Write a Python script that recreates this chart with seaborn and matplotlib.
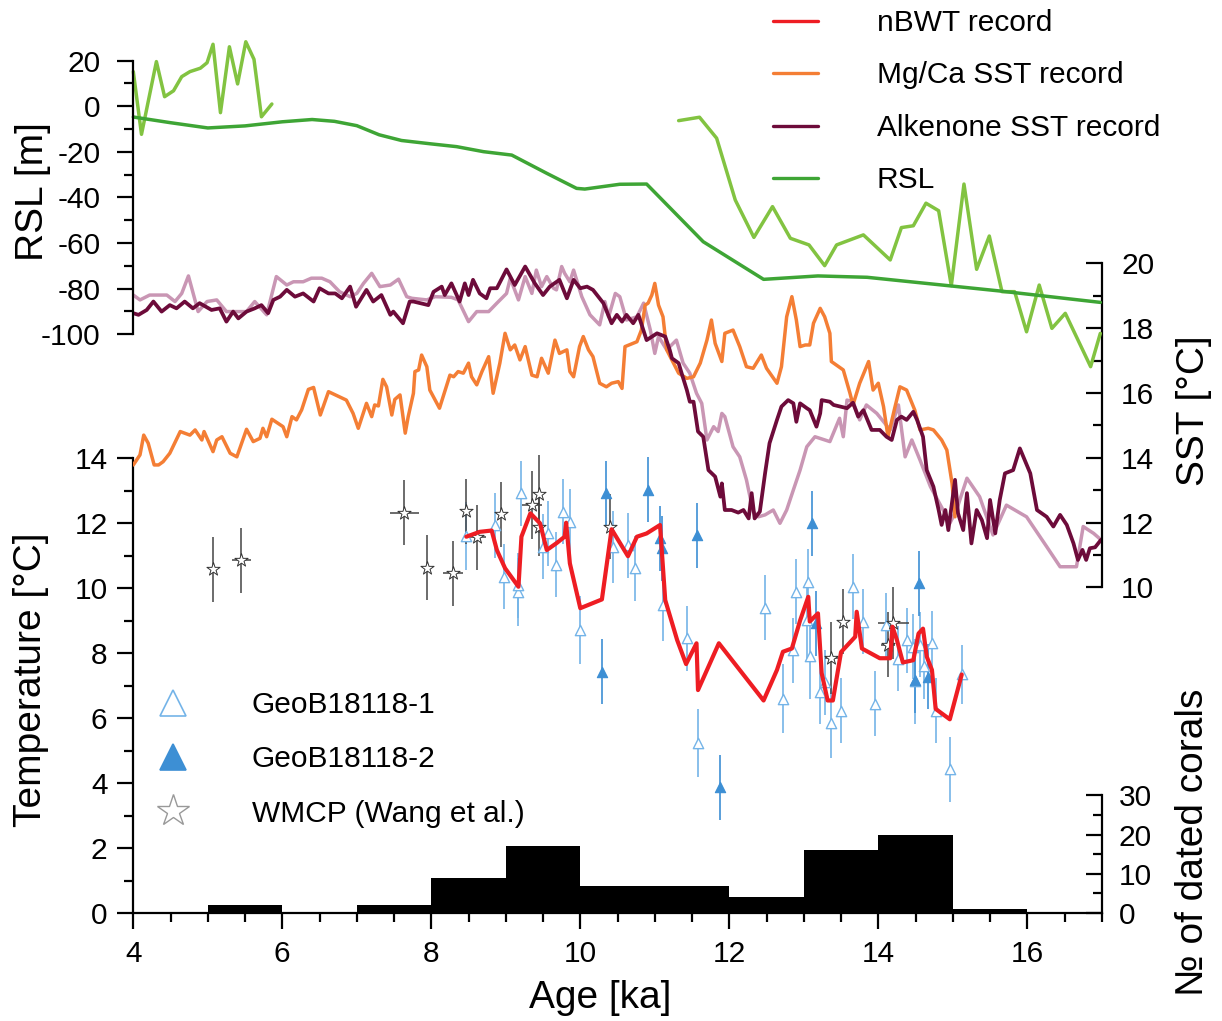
import numpy as np
import seaborn as sns
import matplotlib.pyplot as plt
from matplotlib.lines import Line2D
from matplotlib.ticker import FixedLocator

sns.set_style("ticks")
plt.rcParams["font.family"] = ["Liberation Sans", "DejaVu Sans"]
plt.rcParams["axes.unicode_minus"] = False
for k in ["axes.edgecolor", "xtick.color", "ytick.color", "text.color", "axes.labelcolor"]:
    plt.rcParams[k] = "black"

# ---- RSL [m] ----
rsl_age = [4.0, 4.5, 5.0, 5.5, 6.0, 6.4, 6.7, 7.0, 7.3, 7.6, 8.0, 8.34, 8.7, 9.08, 9.55,
           9.95, 10.06, 10.53, 10.89, 11.65, 12.46, 13.19, 13.85, 15.63, 16.98]
rsl_val = [-4.7, -7.2, -9.5, -8.6, -6.8, -5.8, -6.6, -8.5, -12.5, -15.0, -16.5, -17.7, -19.9,
           -21.4, -29.4, -36.0, -36.3, -34.2, -34.1, -59.4, -75.9, -74.4, -75.0, -81.0, -86.0]
rsl_d1_age = [4.0, 4.11, 4.31, 4.42, 4.54, 4.65, 4.76, 4.9, 4.99, 5.07, 5.17, 5.29, 5.4,
              5.51, 5.62, 5.72, 5.86]
rsl_d1_val = [15.2, -12.3, 19.6, 4.2, 6.8, 13.0, 15.2, 16.7, 19.1, 27.2, -2.8, 26.1, 9.8,
              28.3, 20.6, -4.6, 1.0]
rsl_d2_age = [11.32, 11.6, 11.83, 12.08, 12.33, 12.58, 12.82, 13.07, 13.28, 13.44, 13.8,
              14.16, 14.31, 14.47, 14.64, 14.81, 14.98, 15.15, 15.32, 15.49, 15.66, 15.83,
              15.99, 16.16, 16.33, 16.51, 16.85, 16.98]
rsl_d2_val = [-6.3, -4.8, -14.0, -41.1, -57.5, -44.0, -57.9, -60.8, -69.9, -60.8, -56.4,
              -67.4, -53.2, -52.4, -42.5, -45.8, -78.7, -34.1, -71.5, -56.9, -81.3, -81.3,
              -98.9, -78.4, -97.4, -90.8, -114.2, -99.6]

# ---- Alkenone SST [°C] ----
alk_age = [4.0, 4.07, 4.18, 4.27, 4.38, 4.49, 4.58, 4.69, 4.8, 4.89, 5.05, 5.16, 5.25, 5.34,
           5.41, 5.52, 5.63, 5.72, 5.81, 5.88, 5.97, 6.06, 6.17, 6.28, 6.42, 6.5, 6.62, 6.71,
           6.8, 6.91, 6.99, 7.13, 7.22, 7.33, 7.45, 7.49, 7.62, 7.71, 7.76, 7.96, 8.03, 8.14,
           8.18, 8.27, 8.38, 8.45, 8.5, 8.56, 8.65, 8.74, 8.79, 8.88, 9.01, 9.12, 9.26, 9.39,
           9.5, 9.59, 9.72, 9.82, 9.91, 10.0, 10.09, 10.17, 10.31, 10.42, 10.49, 10.56, 10.62,
           10.71, 10.78, 10.89, 11.03, 11.14, 11.2, 11.23, 11.32, 11.36, 11.43, 11.47, 11.52,
           11.58, 11.65, 11.72, 11.81, 11.88, 11.9, 11.94, 12.03, 12.12, 12.19, 12.26, 12.3,
           12.34, 12.41, 12.48, 12.54, 12.64, 12.7, 12.79, 12.86, 12.9, 12.95, 13.04, 13.08,
           13.17, 13.22, 13.24, 13.35, 13.4, 13.58, 13.66, 13.73, 13.8, 13.91, 14.02, 14.11,
           14.18, 14.25, 14.31, 14.38, 14.47, 14.52, 14.6, 14.65, 14.74, 14.81, 14.85, 14.9,
           14.94, 15.03, 15.07, 15.14, 15.19, 15.25, 15.32, 15.39, 15.46, 15.5, 15.57, 15.63,
           15.7, 15.81, 15.9, 16.04, 16.13, 16.26, 16.35, 16.44, 16.53, 16.62, 16.68, 16.74,
           16.79, 16.84, 16.91, 16.99]
alk_val = [18.46, 18.41, 18.56, 18.82, 18.51, 18.71, 18.61, 18.82, 18.61, 18.77, 18.56, 18.61,
           18.2, 18.51, 18.3, 18.51, 18.61, 18.71, 18.46, 18.87, 18.97, 19.18, 18.97, 19.07,
           18.82, 19.23, 19.07, 19.07, 18.92, 19.28, 18.66, 19.18, 18.82, 19.02, 18.41, 18.51,
           18.15, 18.82, 18.82, 18.71, 19.12, 19.28, 19.02, 19.38, 18.82, 19.38, 19.02, 19.49,
           19.07, 18.92, 19.23, 19.23, 19.81, 19.33, 19.9, 19.38, 19.02, 19.28, 19.49, 18.92,
           19.49, 19.23, 19.28, 19.18, 18.77, 18.15, 18.41, 18.2, 18.41, 18.15, 18.41, 17.63,
           17.84, 17.74, 17.33, 17.07, 16.92, 16.61, 16.09, 15.73, 15.73, 14.81, 14.65, 13.62,
           13.42, 12.8, 13.21, 12.39, 12.39, 12.31, 12.39, 12.13, 12.91, 12.13, 12.34, 13.52,
           14.45, 15.17, 15.58, 15.78, 15.68, 15.11, 15.68, 15.53, 15.47, 14.96, 15.37, 15.78,
           15.73, 15.63, 15.53, 15.7, 15.27, 15.47, 14.86, 14.86, 14.65, 14.55, 15.17, 15.27,
           15.17, 15.42, 15.17, 14.65, 13.62, 13.11, 12.39, 11.93, 12.39, 11.77, 13.32, 12.29,
           11.77, 12.91, 11.36, 12.39, 12.08, 11.52, 12.7, 11.67, 12.7, 13.52, 13.62, 14.29,
           13.52, 12.39, 12.18, 11.88, 12.24, 11.93, 11.36, 10.85, 11.16, 10.85, 11.21, 11.24,
           11.47]
alk2_age = [4.0, 4.09, 4.22, 4.34, 4.45, 4.56, 4.65, 4.74, 4.87, 4.99, 5.12, 5.25, 5.34, 5.52,
            5.63, 5.79, 5.92, 6.06, 6.15, 6.28, 6.39, 6.53, 6.64, 6.77, 6.91, 7.0, 7.09, 7.2,
            7.31, 7.45, 7.56, 7.67, 7.74, 7.94, 8.05, 8.27, 8.36, 8.5, 8.61, 8.77, 8.88, 9.01,
            9.06, 9.17, 9.26, 9.35, 9.41, 9.48, 9.55, 9.64, 9.68, 9.75, 9.79, 9.86, 9.91,
            10.02, 10.13, 10.26, 10.33, 10.38, 10.47, 10.53, 10.62, 10.76, 10.85, 10.94, 11.0,
            11.05, 11.16, 11.29, 11.38, 11.47, 11.56, 11.63, 11.7, 11.79, 11.85, 11.9, 11.94,
            12.05, 12.14, 12.23, 12.32, 12.39, 12.48, 12.59, 12.68, 12.77, 12.86, 12.95, 13.04,
            13.15, 13.35, 13.48, 13.53, 13.58, 13.66, 13.75, 13.84, 13.98, 14.16, 14.27, 14.36,
            14.45, 14.56, 14.7, 14.87, 14.96, 15.05, 15.19, 15.36, 15.54, 15.72, 15.99, 16.26,
            16.44, 16.66, 16.75, 16.89, 16.99]
alk2_val = [19.02, 18.87, 19.02, 19.02, 19.02, 18.82, 19.07, 19.61, 18.51, 18.82, 18.87, 18.51,
            18.51, 18.51, 18.82, 18.41, 19.59, 19.33, 19.43, 19.43, 19.54, 19.54, 19.43, 19.12,
            18.97, 19.07, 19.38, 19.69, 19.28, 19.33, 19.51, 18.97, 18.92, 18.87, 18.97, 18.95,
            18.87, 18.2, 18.51, 18.51, 18.77, 19.07, 19.54, 18.87, 19.59, 19.07, 19.79, 19.28,
            19.59, 19.23, 19.18, 19.9, 19.69, 19.43, 19.79, 18.97, 18.41, 18.1, 18.82, 18.35,
            19.07, 18.97, 18.25, 18.35, 18.77, 17.94, 17.22, 17.74, 17.33, 17.63, 16.92, 16.61,
            15.99, 15.68, 14.55, 14.96, 14.81, 15.37, 15.27, 14.34, 14.03, 13.32, 12.34, 12.18,
            12.24, 12.39, 11.98, 12.39, 13.01, 13.62, 14.34, 14.65, 14.5, 15.22, 14.65, 15.78,
            15.73, 15.17, 15.63, 15.37, 14.86, 15.63, 14.03, 14.55, 13.93, 13.11, 12.39, 11.98,
            12.39, 13.37, 12.8, 11.62, 12.54, 12.18, 11.26, 10.64, 10.64, 11.88, 11.67, 11.47]

# ---- Mg/Ca SST [°C] ----
mgca_age = [4.0, 4.09, 4.14, 4.2, 4.28, 4.34, 4.4, 4.49, 4.63, 4.76, 4.83, 4.92, 4.95, 5.07,
            5.12, 5.19, 5.3, 5.39, 5.43, 5.52, 5.61, 5.7, 5.74, 5.79, 5.86, 6.01, 6.06, 6.13,
            6.19, 6.26, 6.35, 6.42, 6.51, 6.62, 6.86, 6.95, 7.02, 7.13, 7.2, 7.24, 7.29, 7.35,
            7.4, 7.47, 7.51, 7.58, 7.65, 7.69, 7.76, 7.78, 7.83, 7.87, 7.94, 7.98, 8.11, 8.18,
            8.25, 8.3, 8.36, 8.43, 8.5, 8.54, 8.61, 8.68, 8.77, 8.83, 8.92, 8.99, 9.06, 9.12,
            9.19, 9.26, 9.35, 9.42, 9.48, 9.57, 9.66, 9.72, 9.82, 9.86, 9.91, 9.99, 10.04,
            10.11, 10.17, 10.26, 10.35, 10.42, 10.51, 10.56, 10.6, 10.76, 10.82, 10.87, 10.91,
            10.96, 11.0, 11.05, 11.11, 11.16, 11.32, 11.43, 11.52, 11.61, 11.7, 11.76, 11.81,
            11.9, 11.94, 12.05, 12.14, 12.23, 12.32, 12.43, 12.5, 12.64, 12.7, 12.77, 12.84,
            12.9, 12.95, 13.02, 13.08, 13.13, 13.22, 13.28, 13.35, 13.37, 13.53, 13.62, 13.66,
            13.75, 13.87, 13.93, 14.0, 14.07, 14.13, 14.22, 14.29, 14.38, 14.49, 14.56, 14.67,
            14.74, 14.85, 14.92, 14.99, 15.03]
mgca_val = [13.78, 14.09, 14.7, 14.45, 13.78, 13.78, 13.88, 14.14, 14.81, 14.7, 14.86, 14.55,
            14.81, 14.19, 14.55, 14.65, 14.14, 14.03, 14.29, 14.88, 14.5, 14.6, 14.91, 14.65,
            15.19, 14.96, 14.65, 15.27, 15.17, 15.48, 16.11, 16.17, 15.32, 16.04, 15.78, 15.37,
            14.91, 15.68, 15.27, 15.63, 15.6, 16.42, 16.19, 15.32, 15.8, 15.94, 14.76, 15.27,
            15.99, 16.66, 16.71, 17.17, 16.81, 16.09, 15.53, 16.04, 16.55, 16.5, 16.66, 16.61,
            16.92, 16.5, 16.25, 16.66, 17.12, 15.99, 16.92, 17.84, 17.33, 17.48, 17.02, 17.43,
            16.55, 16.5, 17.07, 16.61, 17.63, 17.22, 17.33, 16.66, 16.5, 17.43, 17.74, 17.33,
            17.12, 16.3, 16.19, 16.3, 16.35, 16.14, 17.43, 17.58, 17.94, 18.71, 18.77, 19.02,
            19.38, 18.71, 18.35, 17.33, 16.61, 16.45, 16.5, 16.92, 17.63, 18.25, 17.53, 16.97,
            17.84, 17.94, 17.43, 16.81, 16.76, 17.17, 16.76, 16.3, 16.81, 18.35, 18.97, 18.25,
            17.43, 17.48, 17.48, 18.15, 18.61, 18.35, 17.84, 16.97, 16.71, 15.99, 15.63, 16.3,
            16.97, 16.09, 16.3, 15.58, 14.65, 15.53, 16.19, 16.09, 15.47, 14.86, 14.91, 14.86,
            14.55, 14.24, 13.21, 12.18]

# ---- nBWT [°C] ----
nbwt_age = [8.47, 8.65, 8.81, 8.88, 8.99, 9.17, 9.21, 9.33, 9.46, 9.55, 9.68, 9.79, 9.81,
            9.86, 10.0, 10.29, 10.42, 10.64, 10.76, 10.89, 11.07, 11.14, 11.3, 11.42, 11.56,
            11.58, 11.86, 12.46, 12.64, 12.72, 12.84, 12.95, 13.06, 13.08, 13.19, 13.24, 13.32,
            13.39, 13.5, 13.69, 13.71, 13.78, 14.02, 14.16, 14.19, 14.25, 14.33, 14.47, 14.54,
            14.6, 14.65, 14.72, 14.77, 14.96, 15.12]
nbwt_val = [11.58, 11.73, 11.77, 11.17, 10.61, 10.04, 11.58, 12.3, 11.99, 11.17, 11.38, 11.58,
            12.01, 10.76, 9.38, 9.65, 11.81, 10.98, 11.58, 11.68, 11.94, 9.63, 8.4, 7.66, 8.3,
            6.86, 8.3, 6.54, 7.48, 8.04, 8.14, 9.0, 9.73, 8.97, 9.22, 7.38, 6.54, 6.54, 8.03,
            8.5, 9.27, 8.14, 7.84, 7.84, 8.81, 8.4, 7.71, 7.78, 8.6, 8.75, 7.89, 7.48, 6.28,
            5.96, 7.34]

# ---- coral temperatures ----
geo1_age = [8.47, 8.86, 8.97, 9.17, 9.17, 9.2, 9.5, 9.57, 9.68, 9.77, 9.86, 10.0, 10.44,
            10.64, 10.73, 11.11, 11.43, 11.58, 12.48, 12.72, 12.86, 12.9, 13.04, 13.06, 13.08,
            13.22, 13.28, 13.36, 13.5, 13.66, 13.8, 13.96, 14.11, 14.26, 14.38, 14.47, 14.49,
            14.56, 14.62, 14.72, 14.77, 14.96, 15.12]
geo1_val = [11.6, 11.94, 10.35, 9.89, 10.09, 12.91, 11.27, 11.68, 10.71, 12.35, 12.04, 8.71,
            11.27, 11.32, 10.61, 9.48, 8.45, 5.22, 9.4, 6.6, 8.09, 9.89, 9.02, 10.2, 7.9, 6.81,
            7.1, 5.86, 6.23, 10.04, 8.96, 6.44, 8.86, 7.82, 8.4, 8.19, 7.13, 8.25, 7.6, 8.3,
            6.23, 4.43, 7.34]
geo1_err = [1.05, 1.0, 1.0, 1.05, 1.0, 1.0, 1.0, 1.0, 1.0, 1.0, 1.0, 1.05, 1.1, 1.0, 1.0,
            1.1, 1.0, 1.05, 1.0, 1.05, 1.0, 1.0, 1.2, 1.0, 1.3, 1.0, 1.0, 1.1, 1.0, 1.0, 1.0,
            1.0, 1.0, 1.0, 1.0, 1.0, 1.3, 1.0, 1.0, 1.0, 1.0, 1.0, 0.9]
geo2_age = [10.29, 10.35, 10.91, 11.07, 11.09, 11.56, 11.87, 13.11, 13.17, 14.55, 14.49, 14.67]
geo2_val = [7.42, 12.91, 13.02, 11.53, 11.22, 11.63, 3.87, 11.99, 8.91, 10.14, 7.17, 7.27]
geo2_err = [1.0, 1.0, 1.0, 1.0, 1.0, 1.0, 1.0, 1.0, 1.0, 1.0, 1.0, 1.0]
wmcp_age = [5.07, 5.45, 7.64, 7.94, 8.29, 8.47, 8.62, 8.94, 9.35, 9.44, 9.44, 10.4, 13.37,
            13.52, 14.2, 14.13]
wmcp_val = [10.58, 10.86, 12.32, 10.62, 10.45, 12.36, 11.56, 12.27, 12.55, 12.88, 11.89, 11.89,
            7.84, 8.96, 8.93, 8.25]
wmcp_terr = [1.0, 1.0, 1.0, 1.0, 1.0, 1.0, 1.0, 1.0, 1.05, 1.2, 0.9, 1.0, 1.1, 1.0, 1.1, 1.0]
wmcp_aerr = [0.0, 0.13, 0.19, 0.0, 0.13, 0.0, 0.12, 0.0, 0.13, 0.0, 0.0, 0.0, 0.09, 0.0, 0.21, 0.1]

# ---- dated corals per 1 ka bin ----
bin_edges = list(range(4, 18))
coral_counts = [0, 2, 0, 2, 9, 17, 7, 7, 4, 16, 20, 1, 0]

RED = "#ee1d23"
ORANGE = "#f47e35"
MAROON = "#6d0b3a"
PINK = "#c996b4"
GREEN = "#3ea535"
LGREEN = "#82c341"
OPEN_BLUE = "#74b4e8"
FILL_BLUE = "#3d8fd4"
STAR_GREY = "#444444"

W, H = 1222, 1021
fig = plt.figure(figsize=(W / 100, H / 100), dpi=100)
x0, x1, ybot, ytop = 133.3, 1101.8, 913, 60
ax = fig.add_axes([x0 / W, 1 - ybot / H, (x1 - x0) / W, (ybot - ytop) / H])
ax_sst = ax.twinx()
ax_rsl = ax.twinx()
ax_n = ax.twinx()
for a in (ax, ax_sst, ax_rsl, ax_n):
    a.patch.set_visible(False)
    for s in a.spines.values():
        s.set_visible(False)
        s.set_linewidth(1.6)

ax.set_xlim(4, 17)
ax.set_ylim(0, 26.25)
ax_sst.set_ylim(-0.04, 26.27)
ax_rsl.set_ylim(-353.8, 20.3)
ax_n.set_ylim(0, 217.4)

# coral temperatures
ax.errorbar(geo1_age, geo1_val, yerr=geo1_err, fmt="none", ecolor=OPEN_BLUE, elinewidth=1.2)
ax.errorbar(geo2_age, geo2_val, yerr=geo2_err, fmt="none", ecolor=FILL_BLUE, elinewidth=1.2)
ax.errorbar(wmcp_age, wmcp_val, yerr=wmcp_terr, xerr=wmcp_aerr, fmt="none",
            ecolor=STAR_GREY, elinewidth=1.1)
sns.scatterplot(x=geo1_age, y=geo1_val, ax=ax, marker="^", s=55, facecolor="white",
                edgecolor=OPEN_BLUE, linewidth=1.0, zorder=3)
sns.scatterplot(x=geo2_age, y=geo2_val, ax=ax, marker="^", s=55, color=FILL_BLUE,
                edgecolor=FILL_BLUE, linewidth=0.8, zorder=3)
sns.scatterplot(x=wmcp_age, y=wmcp_val, ax=ax, marker="*", s=100, facecolor="white",
                edgecolor="#333333", linewidth=0.7, zorder=4)
sns.lineplot(x=nbwt_age, y=nbwt_val, ax=ax, color=RED, linewidth=3.0, sort=False,
             estimator=None, zorder=5)

# SST
sns.lineplot(x=alk2_age, y=alk2_val, ax=ax_sst, color=PINK, linewidth=2.5, sort=False, estimator=None)
sns.lineplot(x=mgca_age, y=mgca_val, ax=ax_sst, color=ORANGE, linewidth=2.5, sort=False, estimator=None)
sns.lineplot(x=alk_age, y=alk_val, ax=ax_sst, color=MAROON, linewidth=2.7, sort=False, estimator=None)

# RSL
sns.lineplot(x=rsl_d1_age, y=rsl_d1_val, ax=ax_rsl, color=LGREEN, linewidth=2.5, sort=False,
             estimator=None, clip_on=False)
sns.lineplot(x=rsl_d2_age, y=rsl_d2_val, ax=ax_rsl, color=LGREEN, linewidth=2.5, sort=False,
             estimator=None, clip_on=False)
sns.lineplot(x=rsl_age, y=rsl_val, ax=ax_rsl, color=GREEN, linewidth=2.5, sort=False,
             estimator=None, clip_on=False)

# coral counts
centers = [e + 0.5 for e in bin_edges[:-1]]
sns.histplot(x=centers, weights=coral_counts, bins=bin_edges, ax=ax_n, color="black",
             alpha=1, linewidth=0)
ax_n.set_ylim(0, 217.4)

for a in (ax, ax_sst, ax_rsl, ax_n):
    a.set_xlabel("")
    a.set_ylabel("")

TL = dict(length=11.5, width=1.6, labelsize=21.5)
TM = dict(length=6.7, width=1.6)

ax.spines["left"].set_visible(True)
ax.spines["left"].set_bounds(0, 14)
ax.spines["bottom"].set_visible(True)
ax.spines["bottom"].set_bounds(4, 17)
ax.xaxis.set_major_locator(FixedLocator([4, 6, 8, 10, 12, 14, 16]))
ax.xaxis.set_minor_locator(FixedLocator(np.arange(4.5, 17.01, 1.0).tolist() + [5, 7, 9, 11, 13, 15, 17]))
ax.yaxis.set_major_locator(FixedLocator(list(range(0, 15, 2))))
ax.yaxis.set_minor_locator(FixedLocator(list(range(1, 14, 2))))
ax.tick_params(axis="x", which="major", direction="out", pad=8, **TL)
ax.tick_params(axis="x", which="minor", direction="out", **TM)
ax.tick_params(axis="y", which="major", direction="out", pad=7, **TL)
ax.tick_params(axis="y", which="minor", direction="out", **TM)

ax_rsl.spines["left"].set_visible(True)
ax_rsl.spines["left"].set_bounds(-100, 20)
ax_rsl.yaxis.tick_left()
ax_rsl.yaxis.set_major_locator(FixedLocator(list(range(-100, 21, 20))))
ax_rsl.yaxis.set_minor_locator(FixedLocator(list(range(-90, 11, 20))))
ax_rsl.tick_params(axis="y", which="major", direction="out", pad=12, **TL)
ax_rsl.tick_params(axis="y", which="minor", direction="out", **TM)

ax_sst.spines["right"].set_visible(True)
ax_sst.spines["right"].set_bounds(10, 20)
ax_sst.yaxis.set_major_locator(FixedLocator(list(range(10, 21, 2))))
ax_sst.yaxis.set_minor_locator(FixedLocator(list(range(11, 20, 2))))
ax_sst.tick_params(axis="y", which="major", direction="in", pad=14, **TL)
ax_sst.tick_params(axis="y", which="minor", direction="in", **TM)

ax_n.spines["right"].set_visible(True)
ax_n.spines["right"].set_bounds(0, 30)
ax_n.yaxis.set_major_locator(FixedLocator([0, 10, 20, 30]))
ax_n.yaxis.set_minor_locator(FixedLocator([5, 15, 25]))
ax_n.tick_params(axis="y", which="major", direction="in", pad=12, **TL)
ax_n.tick_params(axis="y", which="minor", direction="in", **TM)

LBL = 28
fig.text(600 / W, 1 - 998 / H, "Age [ka]", ha="center", va="center", fontsize=LBL)
fig.text(31 / W, 1 - 680 / H, "Temperature [°C]", ha="center", va="center", rotation=90, fontsize=LBL)
fig.text(33 / W, 1 - 192 / H, "RSL [m]", ha="center", va="center", rotation=90, fontsize=LBL)
fig.text(1194 / W, 1 - 411 / H, "SST [°C]", ha="center", va="center", rotation=90, fontsize=LBL)
fig.text(1193 / W, 1 - 842 / H, "№ of dated corals", ha="center", va="center", rotation=90, fontsize=LBL)

h1 = [Line2D([], [], color=c, linewidth=2.4) for c in (RED, ORANGE, MAROON, GREEN)]
fig.legend(h1, ["nBWT record", "Mg/Ca SST record", "Alkenone SST record", "RSL"],
           loc="upper left", bbox_to_anchor=(773 / W, 1 - 9 / H), frameon=False,
           fontsize=21.5, handlelength=1.52, handletextpad=1.95, labelspacing=0.82,
           borderpad=0, borderaxespad=0)

h2 = [Line2D([], [], marker="^", linestyle="none", markersize=19, markerfacecolor="white",
             markeredgecolor=OPEN_BLUE, markeredgewidth=1.2),
      Line2D([], [], marker="^", linestyle="none", markersize=19, markerfacecolor=FILL_BLUE,
             markeredgecolor=FILL_BLUE, markeredgewidth=1.2),
      Line2D([], [], marker="*", linestyle="none", markersize=24, markerfacecolor="white",
             markeredgecolor="#999999", markeredgewidth=1.0)]
fig.legend(h2, ["GeoB18118-1", "GeoB18118-2", "WMCP (Wang et al.)"],
           loc="upper left", bbox_to_anchor=(143 / W, 1 - 691 / H), frameon=False,
           fontsize=21.5, handlelength=2.0, handletextpad=1.65, labelspacing=0.88,
           borderpad=0, borderaxespad=0)

fig.savefig("out.png", dpi=100)
